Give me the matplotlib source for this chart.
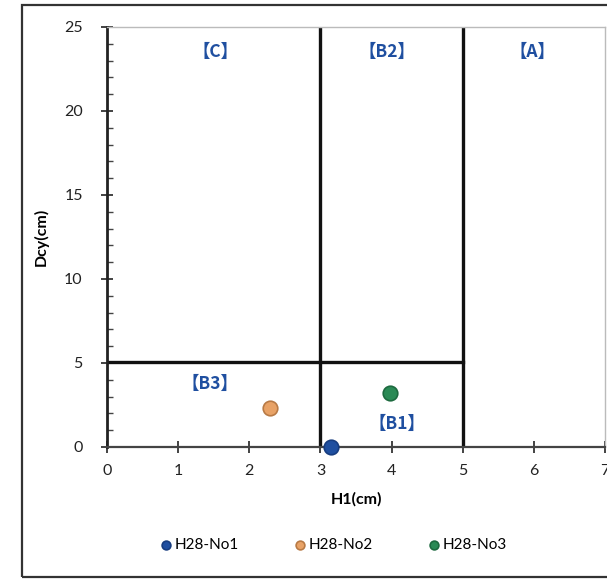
import matplotlib
matplotlib.use("Agg")
import matplotlib.pyplot as plt
from matplotlib.patches import Rectangle
from matplotlib.ticker import MultipleLocator

plt.rcParams['font.family'] = ['Lato', 'DejaVu Sans']

series_names = ["H28-No1", "H28-No2", "H28-No3"]
h1_values = [3.15, 2.29, 3.98]
dcy_values = [0.0, 2.35, 3.2]
series_colors = ["#1f4fa0", "#e8a266", "#2a8a55"]
edge_colors = ["#173d80", "#b87a45", "#1d6a3f"]

region_labels = ["【C】", "【B2】", "【A】", "【B3】", "【B1】"]
region_x = [1.52, 3.93, 5.98, 1.45, 4.07]
region_y = [23.5, 23.5, 23.5, 3.75, 1.35]

x_ticks = [0, 1, 2, 3, 4, 5, 6, 7]
y_ticks = [0, 5, 10, 15, 20, 25]

fig = plt.figure(figsize=(6.07, 5.83), dpi=100)
ax = fig.add_axes([0.1763, 0.2333, 0.8204, 0.7204])

# outer frame
fig.patches.append(Rectangle((0.036, 0.0103), 1.2, 0.981, transform=fig.transFigure,
                             fill=False, edgecolor="#333333", linewidth=1.6, clip_on=False))

# region boundary lines
ax.plot([3, 3], [0, 25], color="#111111", lw=2.4, zorder=2)
ax.plot([5, 5], [0, 25], color="#111111", lw=2.4, zorder=2)
ax.plot([0, 5], [5.05, 5.05], color="#111111", lw=2.4, zorder=2)

for name, xv, yv, c, ec in zip(series_names, h1_values, dcy_values, series_colors, edge_colors):
    ax.scatter([xv], [yv], s=110, color=c, edgecolor=ec, linewidth=1.2, label=name,
               zorder=5, clip_on=False)

for lab, xv, yv in zip(region_labels, region_x, region_y):
    ax.text(xv, yv, lab, color="#1f4fa0", fontsize=12.5, fontweight="bold",
            ha="center", va="center", family=['Noto Sans CJK JP', 'DejaVu Sans'])

ax.set_xlim(0, 7)
ax.set_ylim(0, 25)
ax.set_xticks(x_ticks)
ax.set_yticks(y_ticks)
ax.yaxis.set_minor_locator(MultipleLocator(1))
ax.tick_params(axis='both', which='major', direction='inout', length=9, width=1.2,
               labelsize=11.5, colors="#222222")
ax.tick_params(axis='x', which='major', pad=8)
ax.tick_params(axis='y', which='major', pad=13)
ax.tick_params(axis='y', which='minor', direction='in', length=4, width=1, colors="#444444")

ax.spines['left'].set_linewidth(2.0)
ax.spines['left'].set_color("#222222")
ax.spines['bottom'].set_linewidth(1.6)
ax.spines['bottom'].set_color("#444444")
for s in ['top', 'right']:
    ax.spines[s].set_color("#bbbbbb")
    ax.spines[s].set_linewidth(1.0)

ax.set_xlabel("H1(cm)", fontsize=11.5, fontweight="bold", labelpad=10)
ax.set_ylabel("Dcy(cm)", fontsize=11.5, fontweight="bold", labelpad=11)

leg = fig.legend(loc="center", bbox_to_anchor=(0.548, 0.066), ncol=3, frameon=False,
                 fontsize=11, markerscale=0.6, handletextpad=0.05, columnspacing=3.5,
                 handlelength=1.0)

fig.savefig("out.png", dpi=100)
